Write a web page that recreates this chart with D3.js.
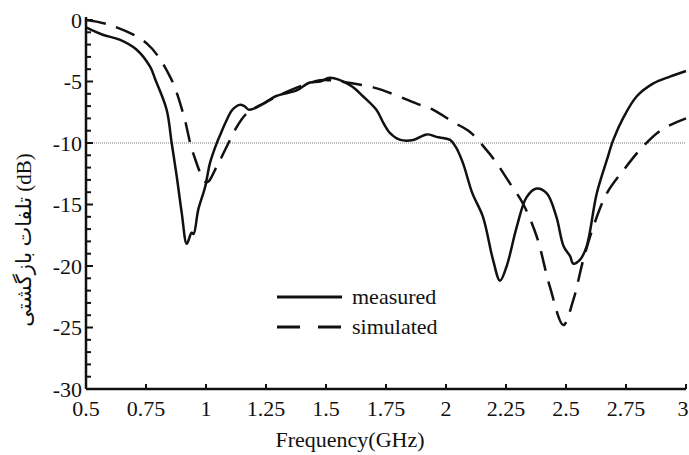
<!DOCTYPE html>
<html>
<head>
<meta charset="UTF-8">
<title>Return loss</title>
<script src="https://d3js.org/d3.v7.min.js"></script>
<style>
  body { margin: 0; background: #fff; }
  text { font-family: "Liberation Serif", "DejaVu Sans", serif; fill: #111; }
</style>
</head>
<body>
<svg></svg>
<script>
  // frequency (GHz) / return loss (dB)
  const measuredFreq = [0.5, 0.57, 0.64, 0.71, 0.767, 0.79, 0.836, 0.857, 0.878, 0.899, 0.92, 0.94, 0.948, 0.968, 0.996, 1.017, 1.045, 1.06, 1.08, 1.11, 1.14, 1.16, 1.18, 1.24, 1.29, 1.38, 1.43, 1.475, 1.517, 1.6, 1.654, 1.71, 1.74, 1.767, 1.81, 1.864, 1.92, 1.96, 2.017, 2.04, 2.07, 2.11, 2.154, 2.196, 2.225, 2.253, 2.295, 2.336, 2.378, 2.42, 2.46, 2.49, 2.517, 2.53, 2.558, 2.586, 2.628, 2.67, 2.697, 2.74, 2.795, 2.864, 2.933, 3.0];
  const measuredDb = [-0.6, -1.2, -1.6, -2.4, -3.8, -4.9, -7.3, -10, -12.7, -15.7, -18.2, -17.3, -17.4, -15.4, -13.6, -11.6, -10, -9.3, -8.4, -7.3, -6.9, -7.0, -7.3, -6.8, -6.2, -5.7, -5.1, -5.0, -4.7, -5.3, -6.2, -7.3, -8.4, -9.2, -9.75, -9.75, -9.3, -9.5, -9.75, -10.3, -11.6, -14.1, -16.0, -19.5, -21.2, -20.0, -16.8, -14.4, -13.7, -14.1, -16.0, -18.4, -19.2, -19.8, -19.5, -18.4, -14.1, -11.4, -9.75, -7.9, -6.2, -5.15, -4.6, -4.15];

  const simulatedFreq = [0.5, 0.6, 0.753, 0.85, 0.905, 0.946, 1.003, 1.045, 1.086, 1.128, 1.17, 1.267, 1.378, 1.475, 1.517, 1.7, 1.79, 1.878, 1.947, 2.03, 2.1, 2.17, 2.21, 2.267, 2.32, 2.378, 2.433, 2.489, 2.53, 2.572, 2.614, 2.67, 2.74, 2.82, 2.9, 3.0];
  const simulatedDb = [0, -0.4, -1.9, -4.6, -7.6, -10.8, -13.2, -11.9, -10.3, -8.7, -7.6, -6.5, -5.5, -4.9, -4.9, -5.5, -6.1, -6.8, -7.3, -8.3, -9.1, -10.6, -11.6, -13.3, -14.9, -17.6, -21.7, -24.8, -22.8, -19.5, -16.8, -14.1, -12.2, -10.3, -8.9, -8.0];

  const xTicks = [0.5, 0.75, 1, 1.25, 1.5, 1.75, 2, 2.25, 2.5, 2.75, 3];
  const yTicks = [0, -5, -10, -15, -20, -25, -30];
  const seriesNames = ['measured', 'simulated'];
  const thresholdDb = -10;

  const width = 689, height = 455;
  const svg = d3.select('svg').attr('width', width).attr('height', height);

  const x = d3.scaleLinear().domain([0.5, 3]).range([86, 686]);
  const y = d3.scaleLinear().domain([0, -30]).range([20, 389]);

  // dotted -10 dB line
  svg.append('line')
    .attr('x1', x(0.5)).attr('x2', x(3))
    .attr('y1', y(thresholdDb)).attr('y2', y(thresholdDb))
    .attr('stroke', '#777').attr('stroke-width', 1)
    .attr('stroke-dasharray', '1,1');

  // y axis
  const yAxis = svg.append('g').attr('transform', `translate(${x(0.5)},0)`);
  yAxis.append('line')
    .attr('y1', y(0) - 3).attr('y2', y(-30))
    .attr('stroke', '#111').attr('stroke-width', 2.5);
  yAxis.selectAll('.minor')
    .data(d3.range(0, -31, -1))
    .join('line')
    .attr('x1', 0).attr('x2', d => d % 5 === 0 ? 7 : 5)
    .attr('y1', d => y(d)).attr('y2', d => y(d))
    .attr('stroke', '#111').attr('stroke-width', 2);
  yAxis.selectAll('text')
    .data(yTicks)
    .join('text')
    .attr('x', -4).attr('y', d => y(d))
    .attr('dy', '0.35em')
    .attr('text-anchor', 'end')
    .style('font-size', '22px')
    .text(d => d);

  // x axis
  const xAxis = svg.append('g').attr('transform', `translate(0,${y(-30)})`);
  xAxis.append('line')
    .attr('x1', x(0.5)).attr('x2', x(3))
    .attr('stroke', '#111').attr('stroke-width', 2.5);
  xAxis.selectAll('.tick')
    .data(xTicks)
    .join('line')
    .attr('x1', d => x(d)).attr('x2', d => x(d))
    .attr('y1', 0).attr('y2', -5)
    .attr('stroke', '#111').attr('stroke-width', 2);
  xAxis.selectAll('text')
    .data(xTicks)
    .join('text')
    .attr('x', d => d === 3 ? x(d) - 3 : x(d)).attr('y', 27)
    .attr('text-anchor', 'middle')
    .style('font-size', '22px')
    .text(d => d);

  svg.append('text')
    .attr('x', 350).attr('y', 447)
    .attr('text-anchor', 'middle')
    .style('font-size', '22px')
    .text('Frequency(GHz)');

  svg.append('text')
    .attr('transform', `translate(31,240) rotate(-90)`)
    .attr('text-anchor', 'middle')
    .style('font-size', '21px')
    .text('تلفات بازگشتی (dB)');

  // curves
  const line = d3.line().x(d => x(d[0])).y(d => y(d[1])).curve(d3.curveCatmullRom);
  const measured = measuredFreq.map((f, i) => [f, measuredDb[i]]);
  const simulated = simulatedFreq.map((f, i) => [f, simulatedDb[i]]);

  svg.append('path').datum(simulated)
    .attr('d', line)
    .attr('fill', 'none').attr('stroke', '#111')
    .attr('stroke-width', 2.5).attr('stroke-dasharray', '20,11');

  svg.append('path').datum(measured)
    .attr('d', line)
    .attr('fill', 'none').attr('stroke', '#111')
    .attr('stroke-width', 2.5);

  // legend
  const legend = svg.append('g');
  seriesNames.forEach((name, i) => {
    const ly = 297 + i * 30;
    legend.append('line')
      .attr('x1', 277).attr('x2', 342).attr('y1', ly).attr('y2', ly)
      .attr('stroke', '#111').attr('stroke-width', 3)
      .attr('stroke-dasharray', i === 0 ? null : '23,18');
    legend.append('text')
      .attr('x', 352).attr('y', ly).attr('dy', '0.3em')
      .style('font-size', '22px')
      .text(name);
  });
</script>
</body>
</html>
